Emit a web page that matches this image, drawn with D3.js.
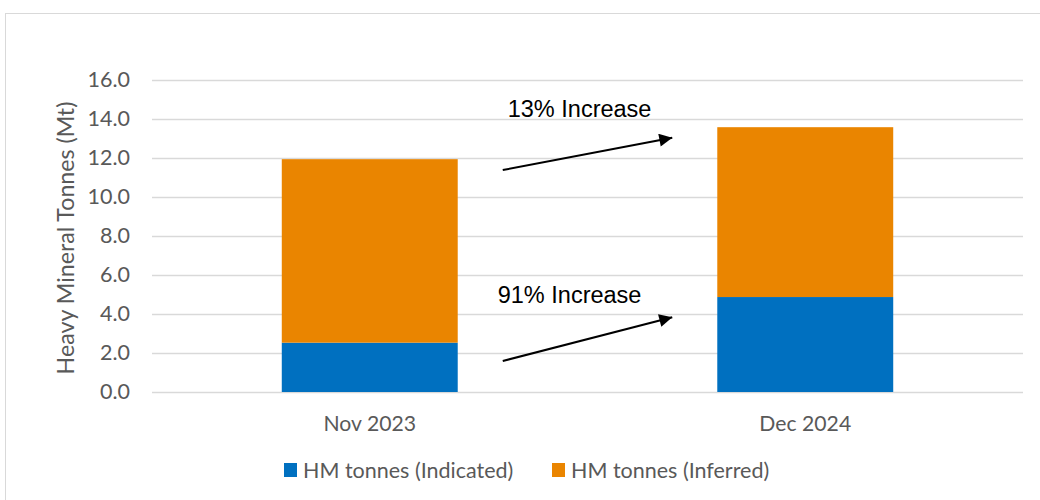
<!DOCTYPE html>
<html>
<head>
<meta charset="utf-8">
<script src="https://cdn.jsdelivr.net/npm/d3@7"></script>
<style>
  html, body { margin: 0; padding: 0; background: #fff; }
  svg { display: block; }
</style>
</head>
<body>
<svg id="chart" width="1040" height="500"></svg>
<script>
// Resource estimate by date, in millions of tonnes of heavy mineral
const categories = ["Nov 2023", "Dec 2024"];
const indicated = [2.53, 4.87];
const inferred = [9.41, 8.71];
const seriesNames = ["HM tonnes (Indicated)", "HM tonnes (Inferred)"];
const seriesColors = ["#0070C0", "#EA8500"];
const yTicks = [0, 2, 4, 6, 8, 10, 12, 14, 16];

// Growth call-outs: label plus arrow start/end values on the y scale
const calloutLabels = ["13% Increase", "91% Increase"];
const calloutFrom = [11.38, 1.59];
const calloutTo = [13.04, 3.83];
const calloutLabelY = [14.12, 4.55];

const svg = d3.select("#chart");
const axisFont = "Lato, 'Noto Sans', sans-serif";
const noteFont = "'Liberation Sans', Arial, sans-serif";
const textGrey = "#595959";

// Chart frame
svg.append("rect")
  .attr("x", 5.5).attr("y", 13.5)
  .attr("width", 1100).attr("height", 600)
  .attr("fill", "none").attr("stroke", "#d9d9d9").attr("stroke-width", 1);

const plot = { left: 152, right: 1023, top: 80, bottom: 392 };

const x = d3.scaleBand()
  .domain(categories)
  .range([plot.left, plot.right])
  .paddingInner(0.596)
  .paddingOuter(0.298);

const y = d3.scaleLinear()
  .domain([0, 16])
  .range([plot.bottom, plot.top]);

// Horizontal gridlines
svg.append("g")
  .selectAll("line")
  .data(yTicks)
  .join("line")
  .attr("x1", plot.left).attr("x2", plot.right)
  .attr("y1", d => Math.round(y(d)) + 0.5)
  .attr("y2", d => Math.round(y(d)) + 0.5)
  .attr("stroke", "#d9d9d9")
  .attr("stroke-width", 1.5);

// Y axis tick labels
const yAxis = d3.axisLeft(y)
  .tickValues(yTicks)
  .tickFormat(d3.format(".1f"))
  .tickSize(0)
  .tickPadding(22);

const yAxisG = svg.append("g")
  .attr("transform", `translate(${plot.left},0)`)
  .call(yAxis);
yAxisG.select(".domain").remove();
yAxisG.selectAll("text")
  .attr("font-family", axisFont)
  .attr("font-size", 21.5)
  .attr("fill", textGrey);

// Y axis title
svg.append("text")
  .attr("transform", `translate(74,${(plot.top + plot.bottom) / 2 + 2}) rotate(-90)`)
  .attr("text-anchor", "middle")
  .attr("font-family", axisFont)
  .attr("font-size", 23.2)
  .attr("fill", textGrey)
  .text("Heavy Mineral Tonnes (Mt)");

// Stacked bars
const rows = categories.map((c, i) => ({ cat: c, indicated: indicated[i], inferred: inferred[i] }));
const stack = d3.stack().keys(["indicated", "inferred"]);
const layers = stack(rows);

svg.append("g")
  .selectAll("g")
  .data(layers)
  .join("g")
  .attr("fill", (d, i) => seriesColors[i])
  .selectAll("rect")
  .data(d => d)
  .join("rect")
  .attr("x", d => x(d.data.cat))
  .attr("width", x.bandwidth())
  .attr("y", d => y(d[1]))
  .attr("height", d => y(d[0]) - y(d[1]));

// Category labels
const xAxis = d3.axisBottom(x).tickSize(0).tickPadding(24);
const xAxisG = svg.append("g")
  .attr("transform", `translate(0,${plot.bottom})`)
  .call(xAxis);
xAxisG.select(".domain").remove();
xAxisG.selectAll("text")
  .attr("font-family", axisFont)
  .attr("font-size", 21.2)
  .attr("fill", textGrey);

// Arrow marker for call-outs
svg.append("defs").append("marker")
  .attr("id", "arrowhead")
  .attr("viewBox", "0 0 10 10")
  .attr("refX", 10).attr("refY", 5)
  .attr("markerWidth", 8).attr("markerHeight", 6.5)
  .attr("markerUnits", "strokeWidth")
  .attr("orient", "auto")
  .append("path")
  .attr("d", "M0,0 L10,5 L0,10 Z")
  .attr("fill", "#000");

const gapLeft = x(categories[0]) + x.bandwidth() + 45;
const gapRight = x(categories[1]) - 45;

const callouts = svg.append("g");
calloutLabels.forEach((label, i) => {
  callouts.append("line")
    .attr("x1", gapLeft).attr("y1", y(calloutFrom[i]))
    .attr("x2", gapRight).attr("y2", y(calloutTo[i]))
    .attr("stroke", "#000")
    .attr("stroke-width", 2)
    .attr("marker-end", "url(#arrowhead)");
  callouts.append("text")
    .attr("x", i === 0 ? gapLeft + 5 : gapLeft - 5)
    .attr("y", y(calloutLabelY[i]))
    .attr("font-family", noteFont)
    .attr("font-size", 23.5)
    .attr("fill", "#000")
    .text(label);
});

// Legend
const legend = svg.append("g").attr("transform", "translate(0,470)");
const legendX = [284, 552];
seriesNames.forEach((name, i) => {
  legend.append("rect")
    .attr("x", legendX[i]).attr("y", -7)
    .attr("width", 13).attr("height", 14)
    .attr("fill", seriesColors[i]);
  legend.append("text")
    .attr("x", legendX[i] + 19)
    .attr("y", 0)
    .attr("dy", "0.35em")
    .attr("font-family", axisFont)
    .attr("font-size", 21.5)
    .attr("fill", textGrey)
    .text(name);
});
</script>
</body>
</html>
